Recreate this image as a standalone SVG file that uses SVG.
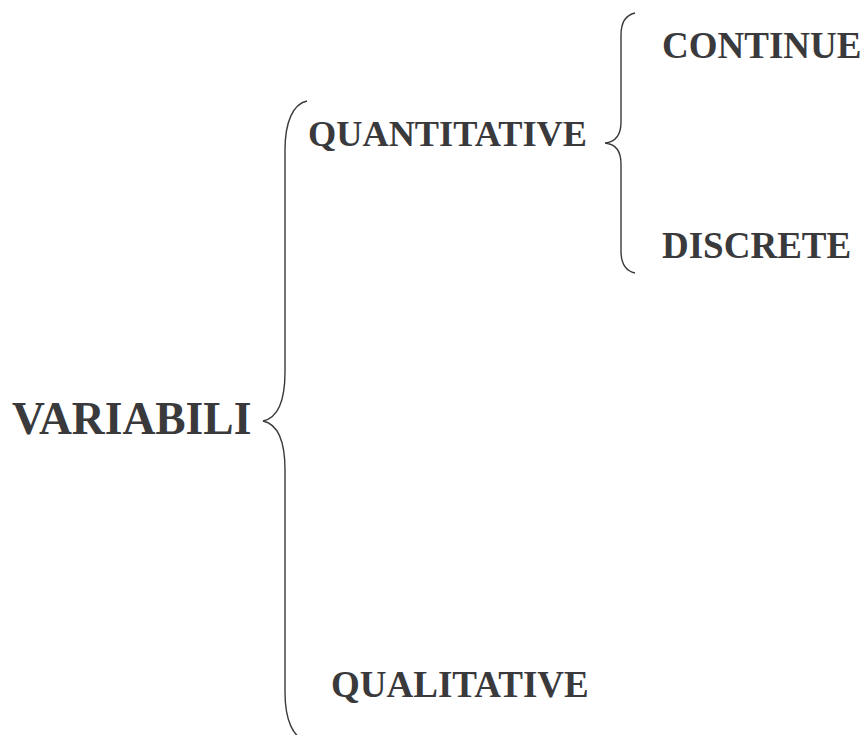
<svg xmlns="http://www.w3.org/2000/svg" width="866" height="735" viewBox="0 0 866 735">
<style>
.t{font-family:"Liberation Serif","Times New Roman",serif;font-weight:bold;fill:#3a3a3d}
.b{fill:none;stroke:#3a3a3d;stroke-width:1.4}
</style>
<rect width="866" height="735" fill="#fff"/>
<g id="connectors">
<path class="b" d="M307,101 C293,104 285,122 285,150 L285,372 C285,402 277,418 263,421 C277,424 285,440 285,470 L285,692 C285,720 293,738 307,741"/>
<path class="b" d="M635,13 C626,15 621,22 621,35 L621,122 C621,135 615,142 605,143 C615,144 621,151 621,164 L621,251 C621,264 626,271 635,273"/>
</g>
<g id="variabili"><text class="t" x="12" y="434" font-size="45.5">VARIABILI</text></g>
<g id="quantitative"><text class="t" x="308" y="146" font-size="36.3">QUANTITATIVE</text></g>
<g id="continue"><text class="t" x="662" y="58" font-size="37">CONTINUE</text></g>
<g id="discrete"><text class="t" x="662" y="258" font-size="37">DISCRETE</text></g>
<g id="qualitative"><text class="t" x="331" y="697" font-size="37">QUALITATIVE</text></g>
</svg>
